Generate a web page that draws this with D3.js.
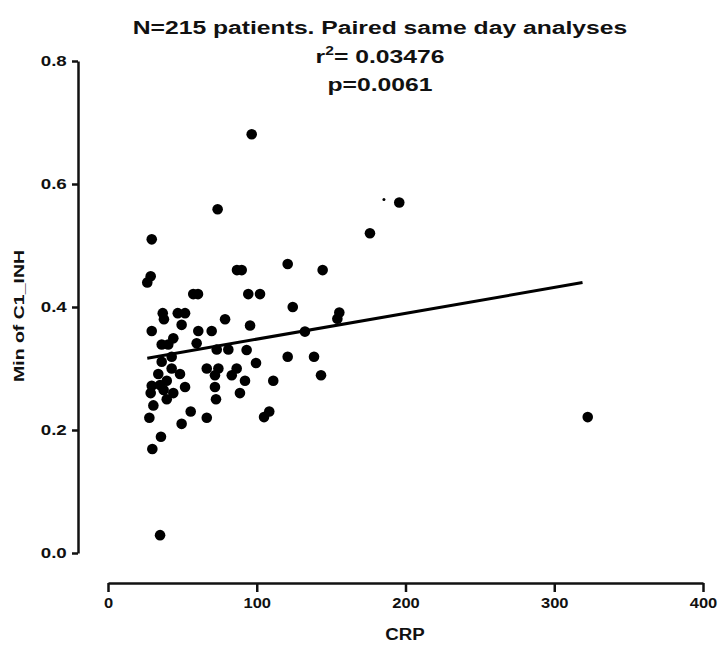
<!DOCTYPE html>
<html>
<head>
<meta charset="utf-8">
<script src="https://cdn.jsdelivr.net/npm/d3@7"></script>
<style>
  body { margin: 0; background: #fff; }
  text { font-family: 'Liberation Sans', Arial, sans-serif; font-weight: bold; fill: #111; }
</style>
</head>
<body>
<svg id="chart" width="718" height="653"></svg>
<script>
// CRP values (x) and Min of C1_INH values (y)
const crp = [
  96.6, 73.7, 195.8, 176.1, 322.5, 35.0, 29.4, 28.7, 26.4, 86.7,
  89.9, 120.8, 144.3, 57.3, 60.5, 94.3, 102.2, 124.2, 155.5, 154.2,
  36.8, 37.6, 46.9, 51.8, 49.5, 78.7, 29.4, 60.7, 69.7, 95.5,
  132.4, 36.1, 40.5, 43.9, 59.6, 73.1, 80.9, 93.2, 36.1, 42.8,
  99.5, 120.8, 138.5, 42.8, 66.4, 74.2, 86.5, 33.8, 48.4, 71.9,
  83.2, 143.2, 92.1, 111.1, 39.5, 29.4, 35.0, 51.8, 71.9, 28.7,
  43.9, 88.7, 39.5, 72.6, 30.5, 55.6, 108.4, 104.9, 27.8, 66.4,
  49.5, 35.6, 29.8, 37.4
]
const c1inh = [
  0.681, 0.559, 0.570, 0.520, 0.221, 0.029, 0.510, 0.450, 0.440, 0.460,
  0.460, 0.470, 0.460, 0.421, 0.421, 0.421, 0.421, 0.400, 0.391, 0.381,
  0.390, 0.380, 0.390, 0.390, 0.371, 0.380, 0.361, 0.361, 0.361, 0.370,
  0.360, 0.339, 0.339, 0.349, 0.341, 0.331, 0.331, 0.330, 0.311, 0.319,
  0.309, 0.319, 0.319, 0.300, 0.300, 0.300, 0.300, 0.291, 0.291, 0.289,
  0.289, 0.289, 0.280, 0.280, 0.280, 0.272, 0.273, 0.270, 0.270, 0.260,
  0.260, 0.260, 0.250, 0.250, 0.240, 0.230, 0.230, 0.221, 0.220, 0.220,
  0.210, 0.189, 0.169, 0.265
]
// stray speck next to the 0.57 point
const speckCrp = [185.5]
const speckC1 = [0.575]

// linear fit shown on the chart
const fitSlope = 0.00042
const fitIntercept = 0.3057

const xTicks = [0, 100, 200, 300, 400]
const yTicks = [0.0, 0.2, 0.4, 0.6, 0.8]

const titleLine = 'N=215 patients. Paired same day analyses'
const r2Text = '0.03476'
const pText = 'p=0.0061'

const stretch = 1.3 // the original lettering is wide

const svg = d3.select('#chart')

const x = d3.scaleLinear().domain([0, 400]).range([108, 703])
const y = d3.scaleLinear().domain([0, 0.8]).range([553, 61])

function styleTicks (axisG, sx) {
  axisG.select('.domain').attr('stroke', '#111').attr('stroke-width', 2.5)
  axisG.selectAll('.tick line').attr('stroke', '#111').attr('stroke-width', 2.5)
  axisG.selectAll('.tick text')
    .style('font-size', '15px')
    .style('font-family', "'Liberation Sans', Arial, sans-serif")
    .style('font-weight', 'bold')
    .attr('fill', '#222')
    .attr('transform', `scale(${sx},1)`)
}

// x axis (offset, Prism style)
const xAxis = svg.append('g')
  .attr('transform', 'translate(0,583)')
  .call(d3.axisBottom(x).tickValues(xTicks).tickFormat(d3.format('d')).tickSize(9).tickSizeOuter(0).tickPadding(5))
styleTicks(xAxis, 1.1)

// y axis
const yAxis = svg.append('g')
  .attr('transform', 'translate(78,0)')
  .call(d3.axisLeft(y).tickValues(yTicks).tickFormat(d3.format('.1f')).tickSize(6).tickSizeOuter(0).tickPadding(3))
styleTicks(yAxis, 1.25)

// axis titles
svg.append('text')
  .attr('transform', 'translate(405,640) scale(1.1,1)')
  .attr('text-anchor', 'middle')
  .style('font-size', '17px')
  .text('CRP')

svg.append('text')
  .attr('transform', `translate(24,316) rotate(-90) scale(${stretch},1)`)
  .attr('text-anchor', 'middle')
  .style('font-size', '15px')
  .text('Min of C1_INH')

// title block
const head = svg.append('g')
  .attr('transform', `translate(380,0) scale(${stretch},1)`)

head.append('text')
  .attr('y', 34)
  .attr('text-anchor', 'middle')
  .style('font-size', '19px')
  .text(titleLine)

const r2 = head.append('text')
  .attr('y', 63)
  .attr('text-anchor', 'middle')
  .style('font-size', '19px')
r2.append('tspan').text('r')
r2.append('tspan').attr('dy', -8).style('font-size', '12px').text('2')
r2.append('tspan').attr('dy', 8).text('= ' + r2Text)

head.append('text')
  .attr('y', 91)
  .attr('text-anchor', 'middle')
  .style('font-size', '19px')
  .text(pText)

// points
const points = crp.map((d, i) => ({ x: d, y: c1inh[i] }))
svg.append('g')
  .selectAll('circle')
  .data(points)
  .enter()
  .append('circle')
  .attr('cx', d => x(d.x))
  .attr('cy', d => y(d.y))
  .attr('r', 5.3)
  .attr('fill', '#000')

svg.append('g')
  .selectAll('circle')
  .data(speckCrp.map((d, i) => ({ x: d, y: speckC1[i] })))
  .enter()
  .append('circle')
  .attr('cx', d => x(d.x))
  .attr('cy', d => y(d.y))
  .attr('r', 1.5)
  .attr('fill', '#000')

// regression line over the data range
const xr = [26.4, 319]
const fit = xr.map(v => ({ x: v, y: fitIntercept + fitSlope * v }))
svg.append('path')
  .datum(fit)
  .attr('d', d3.line().x(d => x(d.x)).y(d => y(d.y)))
  .attr('stroke', '#000')
  .attr('stroke-width', 3)
  .attr('fill', 'none')
</script>
</body>
</html>
